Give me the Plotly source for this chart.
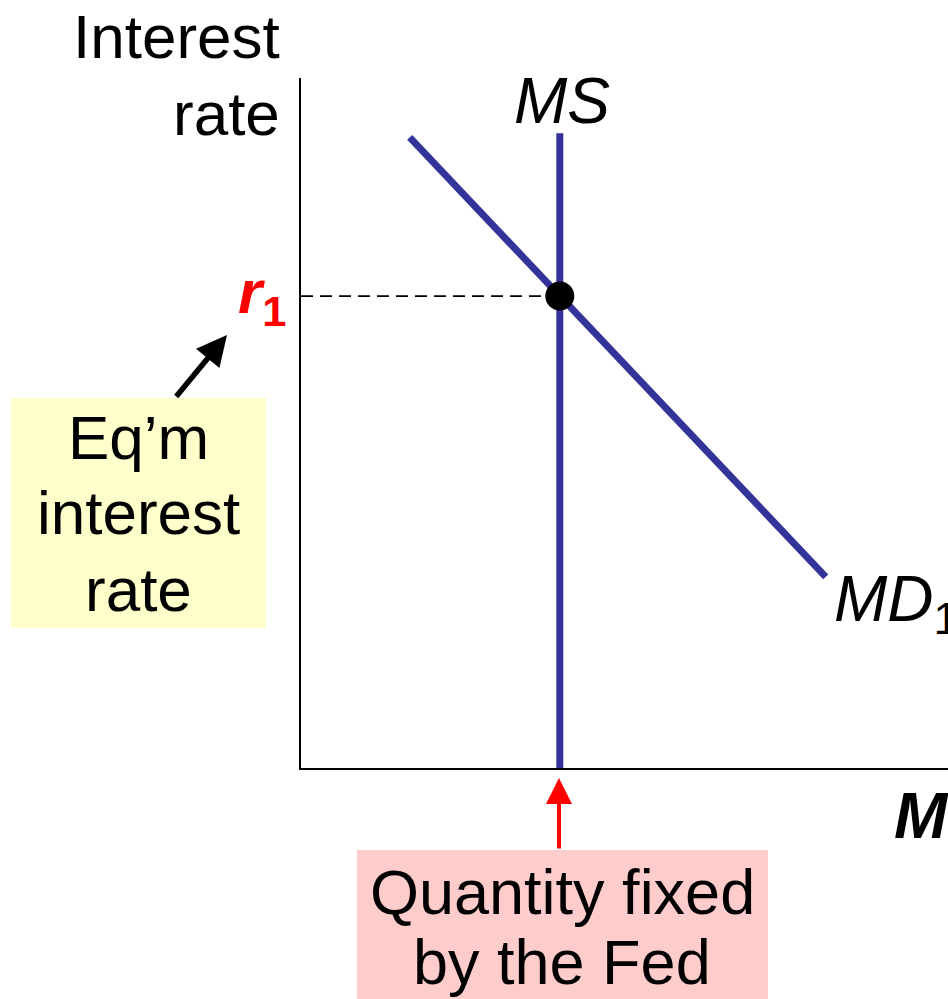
import plotly.graph_objects as go

# ---- data (abstract units: quantity of money 0-10, interest rate 0-10) ----
ms_quantity = [4.0, 4.0]
ms_rate = [0.0, 9.2]
md_quantity = [1.68, 8.11]
md_rate = [9.14, 2.77]
eq_quantity = [4.0]
eq_rate = [6.84]
ref_quantity = [0.0, 4.0]
ref_rate = [6.84, 6.84]

W, H = 948, 999
AX_L, AX_R, AX_T, AX_B = 301, 948, 78, 768   # plot area in pixels
L, T, R, B = AX_L, AX_T, W - AX_R, H - AX_B
PW, PH = AX_R - AX_L, AX_B - AX_T

def px(x):
    return (x - AX_L) / PW

def py(y):
    return (AX_B - y) / PH

FONT = "Liberation Sans, Arial, sans-serif"
NAVY = "#333399"

fig = go.Figure()
fig.add_trace(go.Scatter(x=ref_quantity, y=ref_rate, mode="lines",
                         line=dict(color="black", width=1.8, dash="12px,7px"),
                         hoverinfo="skip"))
fig.add_trace(go.Scatter(x=ms_quantity, y=ms_rate, mode="lines",
                         line=dict(color=NAVY, width=7), hoverinfo="skip"))
fig.add_trace(go.Scatter(x=md_quantity, y=md_rate, mode="lines",
                         line=dict(color=NAVY, width=7), hoverinfo="skip"))
fig.add_trace(go.Scatter(x=eq_quantity, y=eq_rate, mode="markers",
                         marker=dict(color="black", size=29), hoverinfo="skip"))

shapes = [
    dict(type="rect", xref="paper", yref="paper",
         x0=px(11), x1=px(266), y0=py(628), y1=py(398),
         fillcolor="#FFFFCC", line=dict(width=0), layer="below"),
    dict(type="rect", xref="paper", yref="paper",
         x0=px(357), x1=px(768), y0=py(1000), y1=py(850),
         fillcolor="#FFCCCC", line=dict(width=0), layer="below"),
]

def txt(text, x, baseline, xanchor="center", size=62, color="black"):
    return dict(text=text, xref="paper", yref="paper", x=px(x),
                y=py(baseline - 0.35 * size), xanchor=xanchor, yanchor="middle",
                showarrow=False, font=dict(family=FONT, size=size, color=color))

annotations = [
    txt("Interest", 282, 58, xanchor="right"),
    txt("rate", 282, 135, xanchor="right"),
    txt("<i>MS</i>", 562, 123, size=64),
    txt("<i>MD</i><sub>1</sub>", 832, 625, xanchor="left", size=64),
    txt("<b><i>M</i></b>", 892, 838, xanchor="left", size=64),
    txt("<b><i>r</i><sub>1</sub></b>", 236, 318, xanchor="left", size=62, color="red"),
    txt("Eq\u2019m", 138, 459),
    txt("interest", 138, 534),
    txt("rate", 138, 611),
    txt("Quantity fixed", 562, 914, size=63),
    txt("by the Fed", 562, 984, size=63),
    dict(text="", xref="paper", yref="paper", x=px(227), y=py(335),
         ax=-52, ay=63, showarrow=True, arrowhead=2, arrowsize=1.1,
         arrowwidth=5.5, arrowcolor="black"),
    dict(text="", xref="paper", yref="paper", x=px(559), y=py(778),
         ax=0, ay=72, showarrow=True, arrowhead=2, arrowsize=1.3,
         arrowwidth=4, arrowcolor="red"),
]

fig.update_layout(
    width=W, height=H,
    margin=dict(l=L, r=R, t=T, b=B, pad=0),
    paper_bgcolor="white", plot_bgcolor="white",
    showlegend=False,
    shapes=shapes, annotations=annotations,
    xaxis=dict(range=[0, 10], showline=True, linecolor="black", linewidth=2,
               showgrid=False, zeroline=False, showticklabels=False, ticks=""),
    yaxis=dict(range=[0, 10], showline=True, linecolor="black", linewidth=2,
               showgrid=False, zeroline=False, showticklabels=False, ticks=""),
)

fig.write_html(
    "out.html",
    config={"displayModeBar": False},
    post_script="document.body.style.margin='0';"
                "document.documentElement.style.overflow='hidden';",
)
